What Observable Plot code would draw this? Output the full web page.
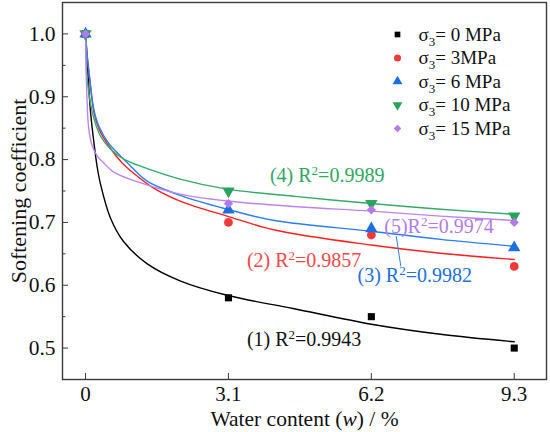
<!DOCTYPE html>
<html><head><meta charset="utf-8">
<script src="https://cdn.jsdelivr.net/npm/d3@7"></script>
<script src="https://cdn.jsdelivr.net/npm/@observablehq/plot@0.6"></script>
<style>body{margin:0;background:#fff} svg text{font-family:"Liberation Serif","Times New Roman",serif !important;}</style>
</head><body><div id="chart"></div>
<script>
// ---- data ----
const seriesNames = ["σ₃= 0 MPa", "σ₃= 3MPa", "σ₃= 6 MPa", "σ₃= 10 MPa", "σ₃= 15 MPa"];
const waterContent = [0, 3.1, 6.2, 9.3];
const measured0  = [1.00, 0.58, 0.55, 0.50];
const measured3  = [1.00, 0.70, 0.68, 0.63];
const measured6  = [1.00, 0.72, 0.69, 0.66];
const measured10 = [1.00, 0.75, 0.73, 0.71];
const measured15 = [1.00, 0.73, 0.72, 0.70];

// fitted curves
const fitX0  = [0, 0.036, 0.108, 0.18, 0.253, 0.324, 0.54, 0.82, 1.34, 2.05, 3.07, 4.5, 6.2, 7.7, 9.3];
const fitY0  = [1, 0.955, 0.876, 0.828, 0.788, 0.761, 0.707, 0.670, 0.634, 0.607, 0.584, 0.563, 0.538, 0.522, 0.510];
const fitX3  = [0, 0.036, 0.09, 0.18, 0.29, 0.5, 0.8, 1.0, 1.47, 2.05, 3.07, 4.1, 6.2, 7.7, 9.3];
const fitY3  = [1, 0.965, 0.928, 0.876, 0.849, 0.822, 0.794, 0.781, 0.755, 0.734, 0.710, 0.688, 0.664, 0.651, 0.641];
const fitX6  = [0, 0.036, 0.09, 0.18, 0.29, 0.5, 0.648, 0.97, 1.33, 2.05, 3.07, 4.1, 6.2, 7.7, 9.3];
const fitY6  = [1, 0.966, 0.930, 0.880, 0.853, 0.826, 0.814, 0.790, 0.766, 0.743, 0.721, 0.703, 0.686, 0.673, 0.662];
const fitX10 = [0, 0.015, 0.036, 0.145, 0.32, 0.54, 0.85, 1.25, 2.05, 3.07, 4.6, 6.2, 7.7, 9.3];
const fitY10 = [1, 0.960, 0.928, 0.876, 0.838, 0.817, 0.800, 0.788, 0.769, 0.753, 0.741, 0.730, 0.721, 0.713];
const fitX15 = [0, 0.01, 0.03, 0.07, 0.145, 0.25, 0.39, 0.61, 1.15, 2.05, 3.07, 4.6, 6.2, 7.7, 9.3];
const fitY15 = [1, 0.950, 0.900, 0.849, 0.822, 0.806, 0.795, 0.780, 0.764, 0.745, 0.734, 0.725, 0.718, 0.710, 0.703];

const xTicks = [0, 3.1, 6.2, 9.3];
const yTicks = [0.5, 0.6, 0.7, 0.8, 0.9, 1.0];
const yMinorTicks = [0.55, 0.65, 0.75, 0.85, 0.95];

const annLabels = ["(1) R²=0.9943", "(2) R²=0.9857", "(3) R²=0.9982", "(4) R²=0.9989", "(5)R²=0.9974"];
const annX = [3.5, 3.5, 5.9, 4.0, 6.48];
const annY = [0.514, 0.640, 0.616, 0.774, 0.693];
const leaderX1 = [6.74], leaderY1 = [0.678], leaderX2 = [6.84], leaderY2 = [0.630];

// ---- styling ----
const serif = "Liberation Serif";
const markColors = ["#000000", "#ee3a3a", "#1d6fe0", "#2aa35c", "#b27be8"];
const lineColors = ["#000000", "#ff1f1f", "#2a7ff0", "#34ab68", "#bb84f2"];
const textColors = ["#111111", "#f04848", "#2070e0", "#30a862", "#b27be8"];
const symbols = ["square", "circle", "triangle", "triangle", "diamond2"];
const rotations = [0, 0, 0, 180, 0];
const radii = [4, 4.4, 4.6, 4.6, 4.2];

const measured = [measured0, measured3, measured6, measured10, measured15];
const fitX = [fitX0, fitX3, fitX6, fitX10, fitX15];
const fitY = [fitY0, fitY3, fitY6, fitY10, fitY15];

const marks = [];
const axisColor = "#3a3a3a";
marks.push(Plot.frame({stroke: axisColor, strokeWidth: 1.4}));
marks.push(Plot.axisX({ticks: xTicks, tickSize: -6, tickPadding: 13, stroke: axisColor, fill: "#111", fontSize: 21, fontFamily: serif, tickFormat: d => d === 0 ? "0" : d3.format(".1f")(d)}));
marks.push(Plot.axisY({ticks: yTicks, tickSize: -6, tickPadding: 13, stroke: axisColor, fill: "#111", fontSize: 21.5, fontFamily: serif, tickFormat: d3.format(".1f"), label: null}));
marks.push(Plot.axisY({ticks: yMinorTicks, tickSize: -3.5, stroke: axisColor, tickFormat: () => "", label: null}));

for (let i = 0; i < 5; i++) {
  marks.push(Plot.line(fitX[i].map((x, j) => ({x, y: fitY[i][j]})), {x: "x", y: "y", stroke: lineColors[i], strokeWidth: 1.4, curve: "catmull-rom"}));
}
for (let i = 0; i < 5; i++) {
  marks.push(Plot.dot(waterContent.map((x, j) => ({x, y: measured[i][j]})), {x: "x", y: "y", symbol: symbols[i], fill: markColors[i], r: radii[i], rotate: rotations[i]}));
}
// leader line
marks.push(Plot.link(leaderX1.map((x, j) => ({x1: x, y1: leaderY1[j], x2: leaderX2[j], y2: leaderY2[j]})), {x1: "x1", y1: "y1", x2: "x2", y2: "y2", stroke: lineColors[2], strokeWidth: 1}));
// annotations
for (let i = 0; i < 5; i++) {
  marks.push(Plot.text([annLabels[i]], {x: () => annX[i], y: () => annY[i], text: d => d, fill: textColors[i], fontSize: 20, fontFamily: serif, textAnchor: "start", lineAnchor: "middle"}));
}
// legend
for (let i = 0; i < 5; i++) {
  marks.push(Plot.dot([seriesNames[i]], {frameAnchor: "top-left", dx: 335, dy: 32 + i * 23.5, symbol: symbols[i], fill: markColors[i], r: radii[i] * 0.8, rotate: rotations[i]}));
  marks.push(Plot.text([seriesNames[i]], {frameAnchor: "top-left", dx: 356, dy: 32 + i * 23.5, text: d => d, fill: "#111", fontSize: 19, fontFamily: serif, textAnchor: "start", lineAnchor: "middle"}));
}
// axis titles
marks.push(Plot.text(["Softening coefficient"], {frameAnchor: "left", dx: -44, rotate: -90, text: d => d, fontSize: 22, fontFamily: serif, fill: "#111", textAnchor: "middle", lineAnchor: "middle"}));
marks.push(Plot.text(["Water content (w) / %"], {frameAnchor: "bottom", dy: 40, text: d => d, fontSize: 21.5, fontFamily: serif, fill: "#111", textAnchor: "middle", lineAnchor: "middle"}));

const chart = Plot.plot({
  width: 550, height: 432,
  marginLeft: 62, marginRight: 4, marginTop: 2, marginBottom: 53,
  x: {domain: [-0.5, 10], axis: null},
  y: {domain: [0.45, 1.05], axis: null},
  style: {fontFamily: serif, color: "#111", background: "#fff"},
  marks
});

// rich-text touches: italic w, subscript 3, superscript 2
d3.select(chart).selectAll("text").each(function() {
  const el = d3.select(this);
  const t = this.textContent;
  if (t === "Water content (w) / %") {
    el.text(null);
    el.append("tspan").text("Water content (");
    el.append("tspan").attr("font-style", "italic").text("w");
    el.append("tspan").text(") / %");
  } else if (t.startsWith("σ₃")) {
    el.text(null);
    el.append("tspan").text("σ");
    el.append("tspan").attr("font-size", "13").attr("dy", "5").text("3");
    el.append("tspan").attr("dy", "-5").text(t.slice(2));
  } else if (t.includes("R²")) {
    const [a, b] = t.split("R²");
    el.text(null);
    el.append("tspan").text(a + "R");
    el.append("tspan").attr("font-size", "13").attr("dy", "-7").text("2");
    el.append("tspan").attr("dy", "7").text(b);
  }
});
document.getElementById("chart").appendChild(chart);
</script>
</body></html>
